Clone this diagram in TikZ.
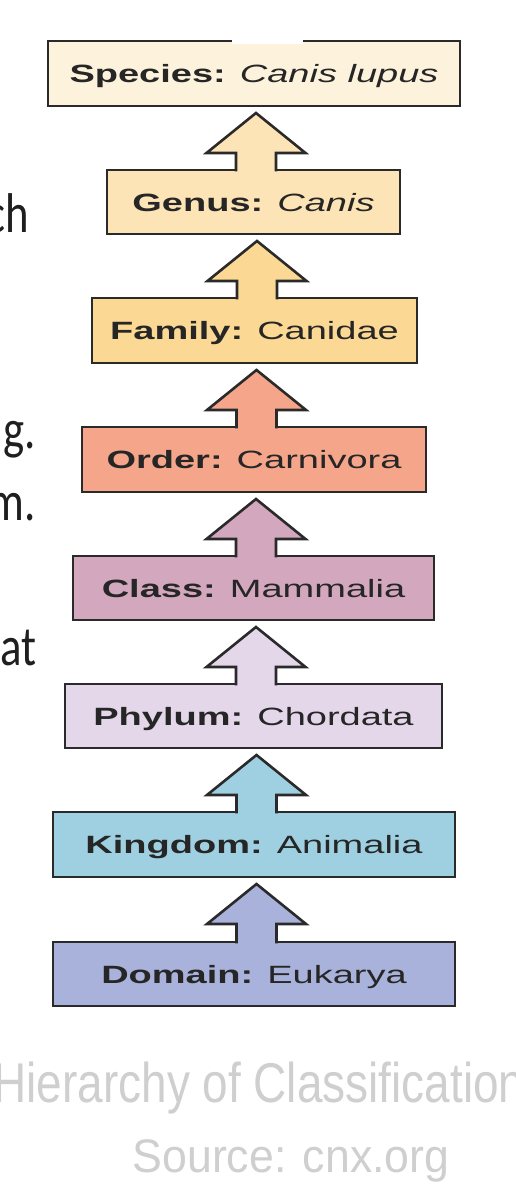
\documentclass[tikz,border=0pt]{standalone}
\usepackage{fontspec}
\setmainfont{Liberation Sans}
\newfontfamily\leftfont{Carlito}
\usepackage{graphicx}
\usetikzlibrary{calc}
\definecolor{linec}{HTML}{2A2A2A}
\definecolor{cSpecies}{HTML}{FDF2DB}
\definecolor{cGenus}{HTML}{FCE4B6}
\definecolor{cFamily}{HTML}{FBD894}
\definecolor{cOrder}{HTML}{F5A68A}
\definecolor{cClass}{HTML}{D3A7BD}
\definecolor{cPhylum}{HTML}{E5D7EA}
\definecolor{cKingdom}{HTML}{9FD0E1}
\definecolor{cDomain}{HTML}{A9B2DA}
\definecolor{capgray}{HTML}{CFCFCF}
\newcommand\boxtext[2]{\fontsize{25}{30}\selectfont\scalebox{1.52}[1]{\textbf{#1} #2}}
\newcommand\classarrow[3]{%
  \path[arrowshape, fill=#3] let \p1=(#1.north), \p2=(#2.south) in
   (\x1+22.5pt,\y1-1.3pt) -- (\x1+22.5pt,\y2-47pt) -- (\x1+52pt,\y2-47pt)
   -- (\x1+2.5pt,\y2-7pt) -- (\x1-47pt,\y2-47pt) -- (\x1-17.5pt,\y2-47pt)
   -- (\x1-17.5pt,\y1-1.3pt);}
\begin{document}
\begin{tikzpicture}[x=1pt,y=-1pt,
  tbox/.style={draw=linec, line width=2.6pt, inner sep=0pt, outer sep=0pt, text=black!85,
    text height=18pt, text depth=0pt},
  arrowshape/.style={draw=linec, line width=2.6pt, line join=miter},
  sidetext/.style={anchor=base east, inner sep=0pt, text=black!88, font=\leftfont\fontsize{56}{60}\selectfont},
  captext/.style={anchor=base, inner sep=0pt, text=capgray}]
\useasboundingbox (0,0) rectangle (516,1200);
\clip (0,0) rectangle (516,1200);
\fill[white] (0,0) rectangle (516,1200);

% boxes
\node[tbox, fill=cSpecies, minimum width=412pt, minimum height=65pt] (species) at (254,73.5) {\boxtext{Species:}{\textit{Canis lupus}}};
\node[tbox, fill=cGenus, minimum width=293pt, minimum height=64pt] (genus) at (253.5,202) {\boxtext{Genus:}{\textit{Canis}}};
\node[tbox, fill=cFamily, minimum width=325pt, minimum height=65pt] (family) at (254.5,330.5) {\boxtext{Family:}{Canidae}};
\node[tbox, fill=cOrder, minimum width=344pt, minimum height=65pt] (order) at (254,459.5) {\boxtext{Order:}{Carnivora}};
\node[tbox, fill=cClass, minimum width=361pt, minimum height=64pt] (class) at (253.5,588) {\boxtext{Class:}{Mammalia}};
\node[tbox, fill=cPhylum, minimum width=377pt, minimum height=64pt] (phylum) at (253.5,716) {\boxtext{Phylum:}{Chordata}};
\node[tbox, fill=cKingdom, minimum width=402pt, minimum height=65pt] (kingdom) at (254,844.5) {\boxtext{Kingdom:}{Animalia}};
\node[tbox, fill=cDomain, minimum width=402pt, minimum height=64pt] (domain) at (254,974) {\boxtext{Domain:}{Eukarya}};

% arrows
\classarrow{genus}{species}{cGenus}
\classarrow{family}{genus}{cFamily}
\classarrow{order}{family}{cOrder}
\classarrow{class}{order}{cClass}
\classarrow{phylum}{class}{cPhylum}
\classarrow{kingdom}{phylum}{cKingdom}
\classarrow{domain}{kingdom}{cDomain}

% white smear on top border of species box
\fill[white] (232,36) rectangle (303,44);

% clipped slide text at left
\node[sidetext] (t1) at (29,232) {\scalebox{0.8}[1]{ch}};
\node[sidetext] (t2) at (36,448) {\scalebox{0.8}[1]{g.}};
\node[sidetext] (t3) at (36,520) {\scalebox{0.8}[1]{m.}};
\node[sidetext] (t4) at (37,665) {\scalebox{0.8}[1]{at}};

% caption
\node[captext, font=\fontsize{56}{60}\selectfont] (cap1) at (259,1102) {\scalebox{0.82}[1]{Hierarchy of Classification}};
\node[captext, font=\fontsize{47}{52}\selectfont] (cap2) at (291,1172) {\scalebox{0.95}[1]{Source: cnx.org}};
\end{tikzpicture}
\end{document}
